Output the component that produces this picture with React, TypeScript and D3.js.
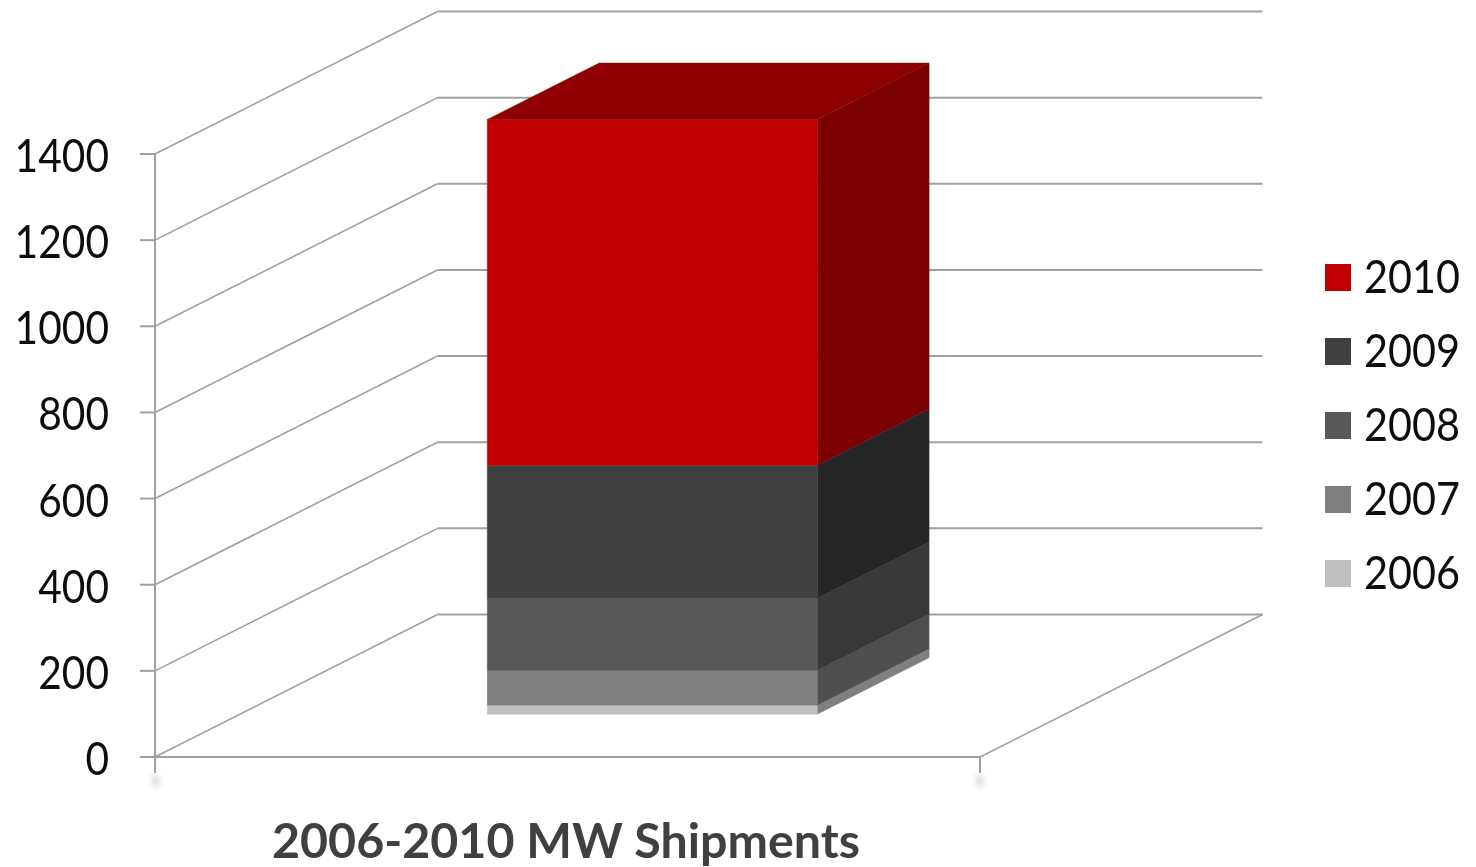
import React from "react";
import * as d3 from "d3";

const years = ["2006", "2007", "2008", "2009", "2010"];
const shipments = [21, 81, 167, 309, 803];
const frontColors = ["#bfbfbf", "#7f7f7f", "#595959", "#404040", "#c00000"];
const sideColors = ["#808080", "#505050", "#383838", "#282828", "#7c0000"];
const topColor = "#8e0000";
const yTicks = [0, 200, 400, 600, 800, 1000, 1200, 1400];
const chartTitle = "2006-2010 MW Shipments";
const gridColor = "#a0a0a0";
const fontFamily = "Lato, Carlito, 'Open Sans', sans-serif";

const yScale = d3.scaleLinear().domain([0, 1400]).range([757, 154]);
const xScale = d3.scaleLinear().domain([0, 1]).range([155, 980]);
const depthX = d3.scaleLinear().domain([0, 1]).range([0, 282.5]);
const depthY = d3.scaleLinear().domain([0, 1]).range([0, -142.5]);
const legendY = d3.scalePoint().domain([...years].reverse()).range([278, 574]);

const pt = (x: number, v: number, d: number): [number, number] => [
  xScale(x) + depthX(d),
  yScale(v) + depthY(d),
];
const poly = d3.line();

const row: Record<string, number> = { };
years.forEach((y, i) => (row[y] = shipments[i]));
const stacked = d3.stack<Record<string, number>>().keys(years)([row]);

const barX0 = 0.3, barX1 = 0.7, barD0 = 0.3, barD1 = 0.696;

export default function App() {
  const topV = stacked[stacked.length - 1][0][1];
  return (
    <svg width={1476} height={867} style={{ position: "absolute", left: 0, top: 0, background: "#fff" }}>
      <defs>
        <filter id="soft" x="-5%" y="-5%" width="110%" height="110%">
          <feGaussianBlur stdDeviation="0.6" />
        </filter>
        <filter id="shadow" x="-400%" y="-100%" width="900%" height="300%">
          <feGaussianBlur stdDeviation="3" />
        </filter>
      </defs>
      <g filter="url(#soft)">
        {yTicks.map((t) => (
          <g key={t} fill="none" stroke={gridColor}>
            <path d={poly([pt(0, t, 0), pt(0, t, 1)]) ?? ""} strokeWidth={1.6} />
            <path d={poly([pt(0, t, 1), pt(1, t, 1)]) ?? ""} strokeWidth={2} />
            <path d={poly([[140, yScale(t)], pt(0, t, 0)]) ?? ""} strokeWidth={2} />
          </g>
        ))}
        <g fill="none" stroke={gridColor}>
          <path d={poly([pt(0, 1400, 0), pt(0, 0, 0), [155, 773]]) ?? ""} strokeWidth={2} />
          <path d={poly([pt(0, 0, 0), pt(1, 0, 0), [980, 773]]) ?? ""} strokeWidth={2} />
          <path d={poly([pt(1, 0, 0), pt(1, 0, 1)]) ?? ""} strokeWidth={1.6} />
        </g>
        <g fill="#c4c4c4" filter="url(#shadow)">
          <rect x={153} y={776} width={5} height={10} />
          <rect x={977} y={776} width={5} height={10} />
        </g>

        {stacked.map((s, i) => {
          const [v0, v1] = s[0];
          return (
            <g key={years[i]}>
              <path
                fill={sideColors[i]}
                stroke={sideColors[i]}
                strokeWidth={0.4}
                d={(poly([pt(barX1, v0, barD0), pt(barX1, v0, barD1), pt(barX1, v1, barD1), pt(barX1, v1, barD0)]) ?? "") + "Z"}
              />
              <path
                fill={frontColors[i]}
                stroke={frontColors[i]}
                strokeWidth={0.4}
                d={(poly([pt(barX0, v0, barD0), pt(barX1, v0, barD0), pt(barX1, v1, barD0), pt(barX0, v1, barD0)]) ?? "") + "Z"}
              />
            </g>
          );
        })}
        <path
          fill={topColor}
          stroke={topColor}
          strokeWidth={0.4}
          d={(poly([pt(barX0, topV, barD0), pt(barX1, topV, barD0), pt(barX1, topV, barD1), pt(barX0, topV, barD1)]) ?? "") + "Z"}
        />

        <g fontFamily={fontFamily} fontSize={46} fill="#111">
          {yTicks.map((t) => {
            const label = String(t);
            return (
              <text
                key={t}
                x={109}
                y={yScale(t) + 18}
                textAnchor="end"
                textLength={label.length * 23.6}
                lengthAdjust="spacingAndGlyphs"
              >
                {label}
              </text>
            );
          })}
          {years.map((y, i) => (
            <g key={y}>
              <rect x={1325} y={(legendY(y) ?? 0) - 14} width={26} height={27} fill={frontColors[i]} />
              <text x={1364} y={(legendY(y) ?? 0) + 15} textLength={96} lengthAdjust="spacingAndGlyphs">
                {y}
              </text>
            </g>
          ))}
        </g>
        <text
          x={272}
          y={858}
          fontFamily={fontFamily}
          fontSize={47}
          fontWeight={700}
          fill="#404040"
          textLength={588}
          lengthAdjust="spacingAndGlyphs"
        >
          {chartTitle}
        </text>
      </g>
    </svg>
  );
}
